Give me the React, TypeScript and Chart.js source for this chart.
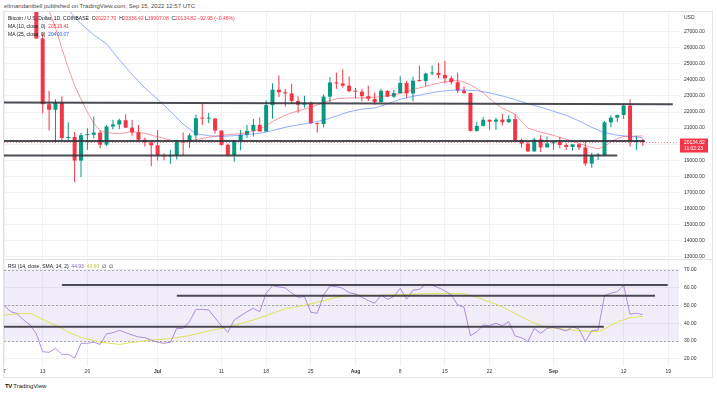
import React, { useEffect, useRef } from "react";
import { Chart, registerables } from "chart.js";

Chart.register(...registerables);

// ---------------- data (day 0 = Jun 13, 2022) ----------------
const firstCandleDay = -1; // Jun 12, 2022
const opens = [
  28400, 26580, 22490, 22140, 22580, 20390, 20450, 18980, 20560, 20580, 20720, 19970, 21100, 21230, 21490, 21030, 20730, 20280, 20110,
  19930, 19290, 19250, 19300, 20230, 20180, 20550, 21620, 21590, 21600, 20850, 19960, 19330, 20220, 20590, 20830, 21200, 20790, 22430,
  23390, 23230, 23160, 22690, 22460, 22580, 21310, 21250, 22960, 23840, 23780, 23640,
  23300, 23270, 22990, 22820, 22620, 23320, 22960, 23180, 23810, 23160, 23950, 23930, 24400, 24440, 24310, 24100, 23860, 23340, 23190,
  20830, 21140, 21520, 21400, 21530, 21370, 21560, 20240, 20040, 19550, 20290, 19800,
  20050, 20130, 19950, 19830, 19990, 19800, 18790, 19290, 19320, 21360, 21650, 21820, 22400, 20170, 20227.7,
];
const highs = [
  28550, 26900, 23330, 22800, 22980, 21360, 20760, 20700, 20990, 21720, 20860, 21200, 21520, 21590, 21860, 21520, 21190, 20420, 20150,
  20870, 19440, 19650, 20270, 20730, 20660, 21840, 22520, 21950, 21610, 20860, 20050, 20250, 20880, 21200, 21570, 21660, 22740, 23800,
  24280, 23430, 23760, 22990, 23010, 22660, 21350, 23090, 24180, 24440, 24660, 24210,
  23500, 23450, 23640, 23220, 23450, 23350, 23380, 24230, 23930, 24200, 24900, 24450, 24890, 25050, 25200, 24250, 24450, 23600, 23200,
  21380, 21690, 21540, 21650, 21890, 21810, 21860, 20340, 20140, 20400, 20560, 20480,
  20200, 20440, 20060, 20000, 20040, 20180, 19460, 19450, 21440, 21800, 21830, 22480, 22800, 20540, 20336.42,
];
const lows = [
  26560, 21930, 20850, 20110, 20230, 20250, 17630, 17960, 19640, 20360, 19770, 19890, 20920, 20940, 21000, 20520, 20190, 19850, 18630,
  18980, 19000, 18780, 19050, 19300, 19780, 20240, 21190, 21320, 20660, 19900, 19250, 18910, 19630, 20390, 20480, 20770, 20770, 21580,
  22930, 22340, 22500, 21960, 22270, 21250, 20710, 21040, 22590, 23430, 23530, 23230,
  22860, 22660, 22690, 22450, 22590, 22950, 22880, 23160, 22880, 22670, 23880, 23600, 24290, 24100, 23790, 23710, 23180, 23100, 20790,
  20770, 21100, 20900, 20890, 21160, 21320, 20140, 19800, 19530, 19550, 19520, 19800,
  19650, 19760, 19650, 19610, 19640, 18650, 18540, 19010, 19300, 21060, 21380, 21560, 19860, 19620, 19907.08,
];
const closes = [
  26580, 22490, 22140, 22580, 20390, 20450, 18980, 20560, 20580, 20720, 19970, 21100, 21230, 21490, 21030, 20730, 20280, 20110, 19930,
  19290, 19250, 19300, 20230, 20180, 20550, 21620, 21590, 21600, 20850, 19960, 19330, 20220, 20590, 20830, 21200, 20790, 22430, 23390,
  23230, 23160, 22690, 22460, 22580, 21310, 21250, 22960, 23840, 23780, 23640, 23300,
  23270, 22990, 22820, 22620, 23320, 22960, 23180, 23810, 23160, 23950, 23930, 24400, 24440, 24310, 24100, 23860, 23340, 23190, 20830,
  21140, 21520, 21400, 21530, 21370, 21560, 20240, 20040, 19550, 20290, 19800, 20050,
  20130, 19950, 19830, 19990, 19800, 18790, 19290, 19320, 21360, 21650, 21820, 22400, 20170, 20230, 20134.82,
];

const ma10Days = [1, 2, 3, 4, 5, 6, 7, 8, 9, 10, 12, 14, 16, 18, 20, 22, 24, 26, 28, 30, 32, 34, 35, 36, 38, 40, 42, 44, 46, 48, 50, 52, 54, 56, 58, 60, 62, 64, 65, 66, 67, 68, 69, 70, 71, 72, 74, 76, 78, 80, 82, 84, 86, 87, 88, 89, 90, 91, 92, 93, 94];
const ma10Values = [28300, 27250, 25950, 24750, 23650, 22800, 22000, 21300, 20850, 20720, 20650, 20780, 20680, 20460, 20250, 20100, 20280, 20430, 20550, 20620, 20700, 20950, 21150, 21420, 21810, 22080, 22300, 22600, 22830, 22880, 22880, 22920, 23000, 23150, 23400, 23600, 23800, 23950, 23960, 23870, 23700, 23450, 23200, 22850, 22500, 22250, 21860, 21000, 20750, 20550, 20300, 20050, 19800, 19720, 19850, 20150, 20350, 20480, 20500, 20490, 20519.41];

const ma25Days = [4, 5, 6, 8, 10, 12, 14, 16, 18, 20, 22, 24, 26, 28, 30, 32, 34, 36, 38, 40, 42, 44, 46, 48, 50, 52, 54, 56, 58, 60, 62, 64, 66, 68, 70, 72, 74, 76, 78, 80, 82, 84, 86, 88, 90, 92, 94];
const ma25Values = [28400, 27900, 27500, 26800, 26250, 25250, 24350, 23500, 22800, 22050, 21250, 20650, 20530, 20480, 20530, 20600, 20680, 20850, 21050, 21200, 21330, 21500, 21750, 22020, 22180, 22250, 22500, 22800, 22980, 23130, 23280, 23350, 23380, 23330, 23200, 23000, 22780, 22520, 22300, 22050, 21800, 21450, 21050, 20720, 20560, 20480, 20400.07];

const rsiFirstDay = -6; // Jun 7
const rsiValues = [
  49.8, 46.5, 45.5, 41.8, 39.2, 34.0, 24.0, 23.6, 25.9, 22.5, 22.5, 20.3, 28.7, 28.7, 29.3, 28.1, 34.0, 34.7, 36.0, 34.7, 33.4, 32.3,
  31.9, 30.5, 29.3, 28.7, 29.3, 37.1, 37.1, 40.9, 47.8, 47.8, 47.5, 43.0, 38.6, 34.9, 41.8, 44.2, 46.5, 48.4, 46.5, 56.9, 61.2, 60.5,
  59.9, 57.0, 54.6, 55.0, 46.2, 45.6, 55.9, 61.0, 60.6, 59.7, 57.2, 56.5, 54.6, 52.8, 51.2, 55.9, 53.5, 55.0, 59.7, 53.5, 58.7, 59.1,
  61.9, 61.5, 60.0, 58.3, 55.9, 50.3, 49.0, 33.0, 35.2, 39.0, 38.6, 40.0, 38.6, 40.9, 32.8, 31.9, 29.6, 37.1, 34.3, 37.1, 37.7, 36.8,
  35.6, 38.1, 36.8, 29.6, 35.8, 36.2, 55.5, 56.9, 57.8, 61.2, 45.1, 45.6, 44.93,
];
const rsiSmaDays = [-6, -4, -2, -1, 1, 3, 4, 6, 9, 12, 14, 17, 20, 23, 26, 28, 30, 33, 35, 38, 41, 43, 46, 49, 52, 55, 59, 63, 66, 68, 70, 72, 74, 76, 78, 80, 82, 84, 86, 87, 88, 90, 92, 94];
const rsiSmaValues = [44.5, 45.3, 45.6, 43.9, 40.5, 37.2, 35.0, 32.0, 29.3, 28.1, 29.2, 30.4, 31.4, 33.0, 35.7, 37.1, 38.8, 41.8, 44.3, 48.2, 50.0, 51.8, 54.6, 55.9, 55.6, 55.9, 56.5, 56.9, 56.6, 54.6, 52.0, 49.3, 45.5, 41.8, 38.5, 37.2, 36.5, 35.9, 35.4, 35.3, 36.8, 40.8, 43.1, 43.9];

// user-drawn horizontal lines
const priceLineStartDays = [-6.1, -6.1, -6.1];
const priceLineEndDays = [98.7, 94.3, 90.0];
const priceLineStartValues = [22590, 20200, 19300];
const priceLineEndValues = [22490, 20200, 19290];
const rsiLineStartDays = [3.0, 21.0, -6.1];
const rsiLineEndDays = [97.9, 95.9, 87.9];
const rsiLineValues = [61.5, 55.5, 38.1];

const priceTicks = [27000, 26000, 25000, 24000, 23000, 22000, 21000, 20000, 19000, 18000, 17000, 16000, 15000, 14000, 13000];
const rsiTicks = [70, 60, 50, 40, 30, 20];
const rsiBandLevels = [70, 50, 30];
const xTickDays = [-6, 0, 7, 18, 28, 35, 42, 49, 56, 63, 70, 80, 91, 98];
const xTickLabels = ["7", "13", "20", "Jul", "11", "18", "25", "Aug", "8", "15", "22", "Sep", "12", "19"];

// view ranges
const X_MIN = -6.062;
const X_MAX = 99.67;
const P_MIN = 12918;
const P_MAX = 28226;
const R_MIN = 15.92;
const R_MAX = 75.63;

const GREEN = "#089981";
const RED = "#f23645";
const FONT = '"Liberation Sans", Arial, sans-serif';
const GRID = "#f0f1f4";
const DRAWN = "rgba(50,50,60,0.88)";

function xScaleBase(showLabels: boolean) {
  return {
    type: "linear" as const,
    min: X_MIN,
    max: X_MAX,
    offset: false,
    grid: { color: GRID, drawTicks: false, offset: false },
    border: { display: false },
    ticks: {
      display: showLabels,
      autoSkip: false,
      maxRotation: 0,
      padding: 3,
      color: "#333",
      font: (ctx: any) => ({
        size: 5,
        family: FONT,
        weight: ["Jul", "Aug", "Sep"].includes(xTickLabels[ctx.index]) ? "bold" : "normal",
      }),
      callback: (_v: any, i: number) => xTickLabels[i],
    },
    afterBuildTicks: (s: any) => {
      s.ticks = xTickDays.map((v) => ({ value: v }));
    },
    afterFit: (s: any) => {
      s.height = showLabels ? 12 : 0;
      s.paddingLeft = 0;
      s.paddingRight = 0;
    },
  };
}

function yScaleBase(min: number, max: number, ticks: number[]) {
  return {
    position: "right" as const,
    min,
    max,
    beginAtZero: false,
    grid: { color: GRID, drawTicks: false },
    border: { display: false },
    ticks: {
      color: "#333",
      padding: 5,
      font: { size: 5, family: FONT },
      callback: (v: any) => Number(v).toFixed(2),
    },
    afterBuildTicks: (s: any) => {
      s.ticks = ticks.map((v) => ({ value: v }));
    },
    afterFit: (s: any) => {
      s.width = 34;
      s.paddingTop = 0;
      s.paddingBottom = 0;
    },
  };
}

const lastClose = closes[closes.length - 1];

const pricePlugin = {
  id: "pricePlugin",
  beforeDatasetsDraw(chart: any) {
    const { ctx, chartArea } = chart;
    const y = Math.round(chart.scales.y.getPixelForValue(lastClose)) + 0.5;
    ctx.save();
    ctx.strokeStyle = "rgba(242,54,69,0.6)";
    ctx.lineWidth = 1;
    ctx.setLineDash([1, 2]);
    ctx.beginPath();
    ctx.moveTo(chartArea.left, y);
    ctx.lineTo(chartArea.right, y);
    ctx.stroke();
    ctx.restore();
  },
  afterDraw(chart: any) {
    const { ctx, chartArea } = chart;
    const y = chart.scales.y.getPixelForValue(lastClose);
    const x0 = chartArea.right + 1;
    ctx.save();
    ctx.fillStyle = RED;
    ctx.fillRect(x0, y - 3.5, 28, 14);
    ctx.fillStyle = "#fff";
    ctx.font = `5px ${FONT}`;
    ctx.textBaseline = "middle";
    ctx.textAlign = "left";
    ctx.fillText(lastClose.toFixed(2), x0 + 4, y + 0.5);
    ctx.fillText("11:02:23", x0 + 4, y + 7);
    ctx.restore();
  },
};

const rsiPlugin = {
  id: "rsiPlugin",
  beforeDatasetsDraw(chart: any) {
    const { ctx, chartArea } = chart;
    const ys = chart.scales.y;
    const top = ys.getPixelForValue(rsiBandLevels[0]);
    const bot = ys.getPixelForValue(rsiBandLevels[2]);
    ctx.save();
    ctx.fillStyle = "rgba(126,87,194,0.1)";
    ctx.fillRect(chartArea.left, top, chartArea.right - chartArea.left, bot - top);
    ctx.strokeStyle = "rgba(120,123,134,0.6)";
    ctx.lineWidth = 1;
    ctx.setLineDash([2, 2]);
    rsiBandLevels.forEach((lv) => {
      const y = Math.round(ys.getPixelForValue(lv)) + 0.5;
      ctx.beginPath();
      ctx.moveTo(chartArea.left, y);
      ctx.lineTo(chartArea.right, y);
      ctx.stroke();
    });
    ctx.restore();
  },
};

function lineDs(data: any[], color: string, width: number, order: number) {
  return {
    type: "line" as const,
    data,
    borderColor: color,
    borderWidth: width,
    pointRadius: 0,
    tension: 0,
    fill: false,
    order,
  };
}

export default function App() {
  const priceRef = useRef<HTMLCanvasElement>(null);
  const rsiRef = useRef<HTMLCanvasElement>(null);

  useEffect(() => {
    const colors = closes.map((c, i) => (c >= opens[i] ? GREEN : RED));
    const wickData = highs.map((h, i) => ({ x: firstCandleDay + i, y: [lows[i], h] }));
    const bodyData = closes.map((c, i) => ({ x: firstCandleDay + i, y: [opens[i], c] }));
    const ma10 = ma10Days.map((d, i) => ({ x: d, y: ma10Values[i] }));
    const ma25 = ma25Days.map((d, i) => ({ x: d, y: ma25Values[i] }));
    const drawnPrice = priceLineStartDays.map((d, i) =>
      lineDs(
        [
          { x: d, y: priceLineStartValues[i] },
          { x: priceLineEndDays[i], y: priceLineEndValues[i] },
        ],
        DRAWN,
        2,
        0
      )
    );

    const priceChart = new Chart(priceRef.current as HTMLCanvasElement, {
      type: "bar",
      data: {
        datasets: [
          ...drawnPrice,
          lineDs(ma10, "rgba(242,54,69,0.5)", 1, 1),
          lineDs(ma25, "rgba(41,98,255,0.5)", 1, 1),
          {
            type: "bar",
            data: bodyData as any,
            backgroundColor: colors,
            barThickness: 4,
            minBarLength: 1,
            grouped: false,
            borderWidth: 0,
            inflateAmount: 0,
            order: 2,
          } as any,
          {
            type: "bar",
            data: wickData as any,
            backgroundColor: colors,
            barThickness: 1,
            grouped: false,
            borderWidth: 0,
            inflateAmount: 0,
            order: 3,
          } as any,
        ],
      },
      options: {
        animation: false,
        responsive: false,
        maintainAspectRatio: false,
        events: [],
        layout: { padding: 0 },
        plugins: { legend: { display: false }, tooltip: { enabled: false } },
        scales: {
          x: xScaleBase(false) as any,
          y: yScaleBase(P_MIN, P_MAX, priceTicks) as any,
        },
      },
      plugins: [pricePlugin],
    });

    const rsiData = rsiValues.map((v, i) => ({ x: rsiFirstDay + i, y: v }));
    const smaData = rsiSmaDays.map((d, i) => ({ x: d, y: rsiSmaValues[i] }));
    const drawnRsi = rsiLineStartDays.map((d, i) =>
      lineDs(
        [
          { x: d, y: rsiLineValues[i] },
          { x: rsiLineEndDays[i], y: rsiLineValues[i] },
        ],
        DRAWN,
        2,
        0
      )
    );

    const rsiChart = new Chart(rsiRef.current as HTMLCanvasElement, {
      type: "line",
      data: {
        datasets: [
          ...drawnRsi,
          lineDs(rsiData, "rgba(165,125,215,0.85)", 1, 1),
          lineDs(smaData, "rgba(222,226,80,0.95)", 1, 2),
        ],
      },
      options: {
        animation: false,
        responsive: false,
        maintainAspectRatio: false,
        events: [],
        layout: { padding: 0 },
        plugins: { legend: { display: false }, tooltip: { enabled: false } },
        scales: {
          x: xScaleBase(true) as any,
          y: yScaleBase(R_MIN, R_MAX, rsiTicks) as any,
        },
      },
      plugins: [rsiPlugin],
    });

    return () => {
      priceChart.destroy();
      rsiChart.destroy();
    };
  }, []);

  const txt = (extra: React.CSSProperties): React.CSSProperties => ({
    position: "absolute",
    whiteSpace: "nowrap",
    fontFamily: FONT,
    fontSize: 5,
    lineHeight: "6px",
    color: "#131722",
    ...extra,
  });

  return (
    <div
      style={{
        position: "fixed",
        left: 0,
        top: 0,
        width: 717,
        height: 397,
        background: "#fff",
        overflow: "hidden",
        fontFamily: FONT,
      }}
    >
      <div style={txt({ left: 4, top: 3, fontSize: 6, lineHeight: "7px", color: "#4a4a4a" })}>
        elimandanibell published on TradingView.com, Sep 15, 2022 12:57 UTC
      </div>
      <div
        style={{
          position: "absolute",
          left: 3,
          top: 11,
          width: 710,
          height: 367,
          border: "1px solid #e0e3eb",
          boxSizing: "border-box",
        }}
      />
      <canvas
        ref={priceRef}
        width={709}
        height={246}
        style={{ position: "absolute", left: 4, top: 12, width: 709, height: 246 }}
      />
      <div style={{ position: "absolute", left: 4, top: 259, width: 709, height: 1, background: "#e0e3eb" }} />
      <canvas
        ref={rsiRef}
        width={709}
        height={118}
        style={{ position: "absolute", left: 4, top: 260, width: 709, height: 118 }}
      />

      <div style={txt({ left: 684, top: 14, color: "#333" })}>USD</div>

      <div style={txt({ left: 8, top: 15 })}>
        Bitcoin / U.S. Dollar, 1D, COINBASE&nbsp;&nbsp;O<span style={{ color: RED }}>20227.70</span>&nbsp;
        H<span style={{ color: RED }}>20336.42</span>&nbsp;L<span style={{ color: RED }}>19907.08</span>&nbsp;
        C<span style={{ color: RED }}>20134.82</span>&nbsp;<span style={{ color: RED }}>−92.95 (−0.46%)</span>
      </div>
      <div style={txt({ left: 8, top: 23 })}>
        MA (10, close, 0)&nbsp;&nbsp;<span style={{ color: RED }}>20519.41</span>
      </div>
      <div style={txt({ left: 8, top: 30.5 })}>
        MA (25, close, 0)&nbsp;&nbsp;<span style={{ color: "#2962ff" }}>20400.07</span>
      </div>

      <div style={txt({ left: 8, top: 263 })}>
        RSI (14, close, SMA, 14, 2)&nbsp;&nbsp;<span style={{ color: "#7e57c2" }}>44.93</span>&nbsp;&nbsp;
        <span style={{ color: "#c8cc3a" }}>43.90</span>&nbsp;&nbsp;∅&nbsp;&nbsp;∅
      </div>

      <div style={txt({ left: 5, top: 383, fontSize: 6, lineHeight: "7px", color: "#131722" })}>
        <span style={{ fontWeight: 900, letterSpacing: -0.5 }}>TV</span>&nbsp;TradingView
      </div>
    </div>
  );
}
